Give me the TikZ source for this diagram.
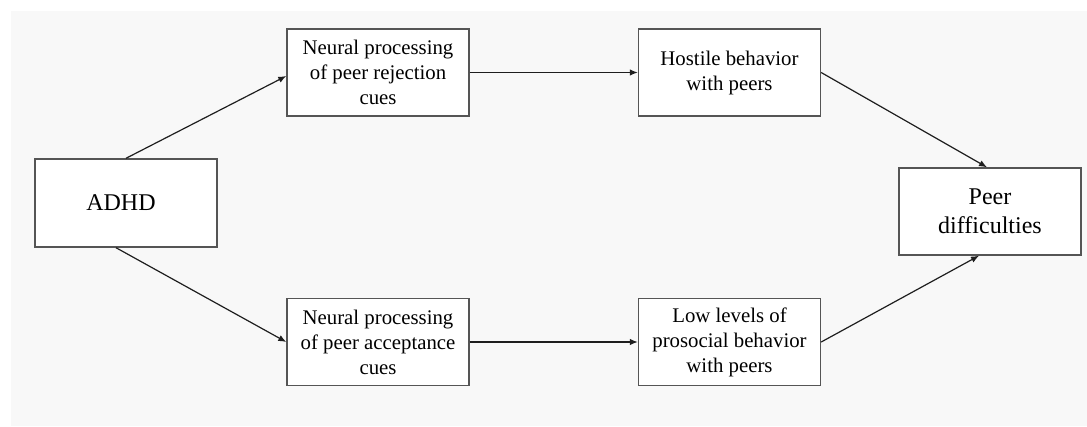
\documentclass[tikz,border=0pt]{standalone}
\usepackage{fontspec}
\setmainfont{Liberation Serif}
\usetikzlibrary{arrows.meta}
\definecolor{bgpanel}{HTML}{F8F8F8}
\definecolor{boxline}{HTML}{555555}
\definecolor{arrowline}{HTML}{1E1E1E}
\tikzset{
  boxnode/.style={draw=boxline, line width=1.4pt, fill=white, minimum width=182pt,
    minimum height=87pt, inner sep=0pt, align=center,
    font=\fontsize{20.8}{25}\selectfont},
  bigtext/.style={font=\fontsize{24}{29}\selectfont},
  conn/.style={draw=arrowline, line width=1.2pt, -{Latex[length=8pt,width=6.5pt]}}
}
\begin{document}
\begin{tikzpicture}[x=1pt,y=-1pt]
\useasboundingbox (0,0) rectangle (1087,426);
\fill[white] (0,0) rectangle (1087,426);
\fill[bgpanel] (11,11) rectangle (1087,426);

\node[boxnode, bigtext, minimum height=88pt] (adhd) at (126,203) {ADHD\hspace{10pt}};
\node[boxnode] (rej) at (378,72.5) {Neural processing\\of peer rejection\\cues};
\node[boxnode] (acc) at (378,342) {Neural processing\\of peer acceptance\\cues};
\node[boxnode] (hos) at (729.5,72.5) {Hostile behavior\\with peers};
\node[boxnode] (low) at (729.5,342) {Low levels of\\prosocial behavior\\with peers};
\node[boxnode, bigtext] (peer) at (990,211.5) {Peer\\difficulties};

\draw[conn] (adhd.north) -- ([yshift=-3.5pt]rej.west);
\draw[conn] ([xshift=-10pt]adhd.south) -- (acc.west);
\draw[conn] (rej.east) -- (hos.west);
\draw[conn] (acc.east) -- (low.west);
\draw[conn] (hos.east) -- ([xshift=-3pt]peer.north);
\draw[conn] (low.east) -- ([xshift=-11pt]peer.south);
\end{tikzpicture}
\end{document}
